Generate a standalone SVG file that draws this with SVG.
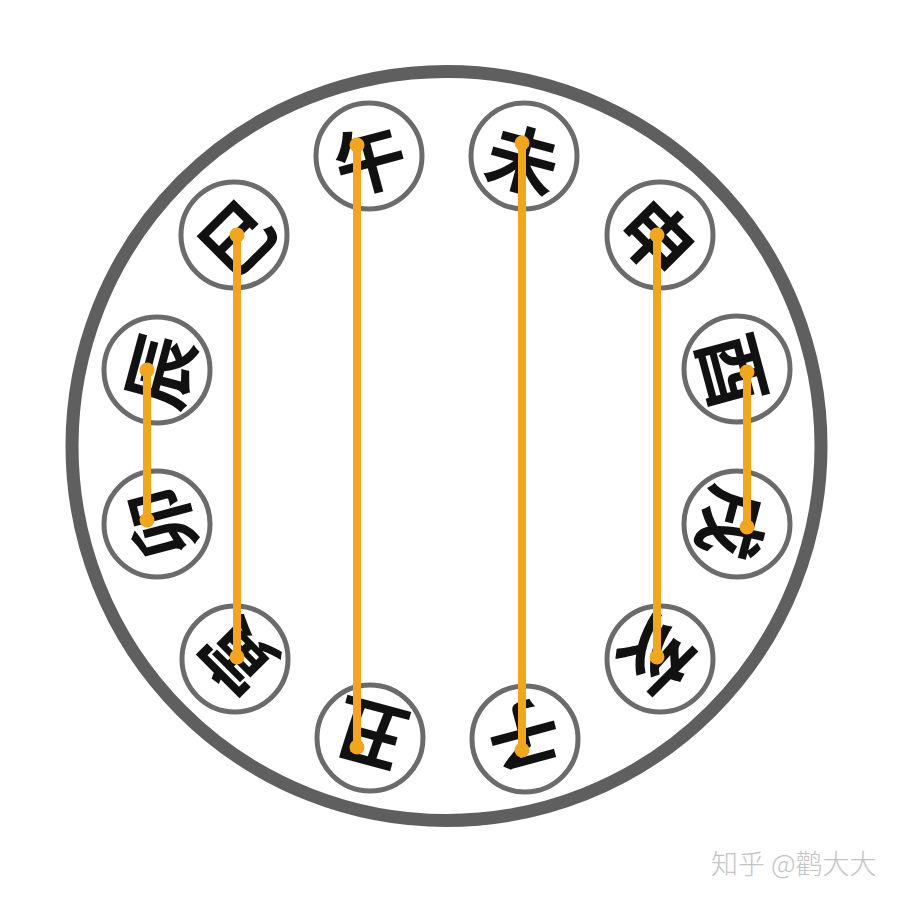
<svg xmlns="http://www.w3.org/2000/svg" width="900" height="900" viewBox="0 0 900 900">
<style>
.big{fill:#ffffff;stroke:#5f5f5f;stroke-width:13}
.node circle{fill:#ffffff;stroke:#6b6b6b;stroke-width:5}
.node text{font-family:"Noto Sans CJK SC","Noto Sans CJK JP",sans-serif;font-weight:700;font-size:72px;fill:#111111;text-anchor:middle;dominant-baseline:central}
.link line{stroke:#f2a51f;stroke-width:8;stroke-linecap:round}
.link circle{fill:#f2a51f}
.wm{font-family:"Noto Sans CJK SC",sans-serif;font-weight:300;font-size:27px;fill:#c4c4c4}
</style>
<rect width="900" height="900" fill="#ffffff"/>
<circle class="big" cx="446.5" cy="446" r="374.5"/>
<g id="n-wu" class="node"><circle cx="369" cy="156" r="53"/><text transform="translate(369 156) rotate(-15)">午</text></g>
<g id="n-wei" class="node"><circle cx="524" cy="156" r="53"/><text transform="translate(524 156) rotate(15)">未</text></g>
<g id="n-shen" class="node"><circle cx="660" cy="235" r="53"/><text transform="translate(660 235) rotate(45)">申</text></g>
<g id="n-you" class="node"><circle cx="737" cy="369" r="53"/><text transform="translate(737 369) rotate(75)">酉</text></g>
<g id="n-xu" class="node"><circle cx="737" cy="524" r="53"/><text transform="translate(737 524) rotate(105)">戌</text></g>
<g id="n-hai" class="node"><circle cx="660" cy="659" r="53"/><text transform="translate(660 659) rotate(135)">亥</text></g>
<g id="n-zi" class="node"><circle cx="525" cy="739" r="53"/><text transform="translate(525 739) rotate(165)">子</text></g>
<g id="n-chou" class="node"><circle cx="370" cy="738" r="53"/><text transform="translate(370 738) rotate(195)">丑</text></g>
<g id="n-yin" class="node"><circle cx="235" cy="659" r="53"/><text transform="translate(235 659) rotate(225)">寅</text></g>
<g id="n-mao" class="node"><circle cx="157" cy="524" r="53"/><text transform="translate(157 524) rotate(255)">卯</text></g>
<g id="n-chen" class="node"><circle cx="157" cy="370" r="53"/><text transform="translate(157 370) rotate(285)">辰</text></g>
<g id="n-si" class="node"><circle cx="234" cy="235" r="53"/><text transform="translate(234 235) rotate(315)">巳</text></g>
<g id="connectors" class="link">
<line x1="237" y1="235" x2="237" y2="657"/><circle cx="237" cy="235" r="7.5"/><circle cx="237" cy="657" r="7.5"/>
<line x1="357" y1="145" x2="357" y2="747"/><circle cx="357" cy="145" r="7.5"/><circle cx="357" cy="747" r="7.5"/>
<line x1="522" y1="143" x2="522" y2="750"/><circle cx="522" cy="143" r="7.5"/><circle cx="522" cy="750" r="7.5"/>
<line x1="657" y1="235" x2="657" y2="657"/><circle cx="657" cy="235" r="7.5"/><circle cx="657" cy="657" r="7.5"/>
<line x1="147" y1="370" x2="147" y2="520"/><circle cx="147" cy="370" r="7.5"/><circle cx="147" cy="520" r="7.5"/>
<line x1="747" y1="372" x2="747" y2="527"/><circle cx="747" cy="372" r="7.5"/><circle cx="747" cy="527" r="7.5"/>
</g>
<text class="wm" x="711" y="874">知乎 @鹳大大</text>
</svg>
